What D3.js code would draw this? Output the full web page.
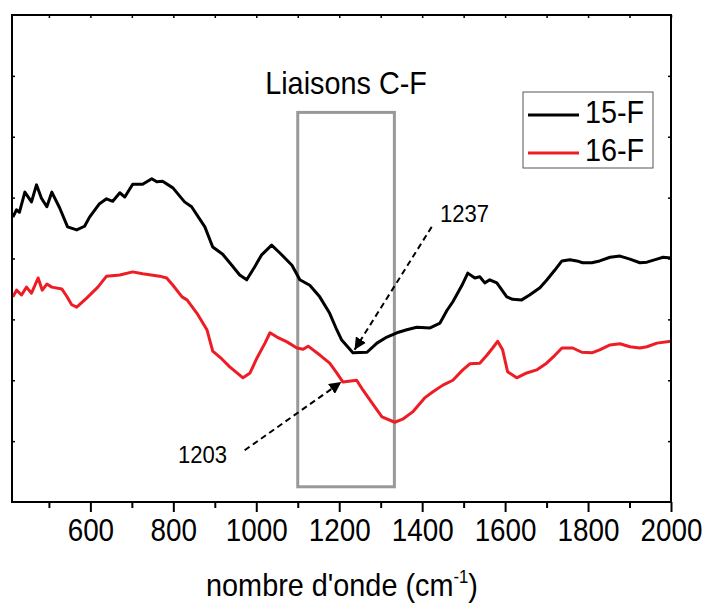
<!DOCTYPE html>
<html><head><meta charset="utf-8">
<script src="https://cdn.jsdelivr.net/npm/d3@7"></script>
<style>body{margin:0;background:#fff}svg{display:block;font-family:"Liberation Sans",Arial,sans-serif}</style>
</head><body>
<svg id="c" width="710" height="603"></svg>
<script>
// ---- data ----
const wn15 = [413,422,429,442,458,470,482,495,507,526,545,567,586,598,622,639,654,671,683,702,726,748,760,774,799,827,844,876,895,919,941,960,977,996,1013,1037,1057,1086,1105,1129,1153,1177,1194,1206,1233,1267,1291,1315,1339,1363,1387,1419,1443,1460,1474,1496,1510,1527,1539,1551,1563,1580,1604,1618,1640,1659,1684,1701,1720,1737,1756,1773,1787,1809,1828,1853,1877,1901,1925,1942,1966,1981,2000];
const t15 = [4.68,4.80,4.76,5.09,4.93,5.21,4.99,4.85,5.09,4.83,4.52,4.47,4.53,4.68,4.90,4.98,4.94,5.08,5.01,5.22,5.22,5.31,5.26,5.27,5.16,4.93,4.85,4.52,4.19,4.07,3.89,3.73,3.65,3.86,4.06,4.22,4.09,3.89,3.65,3.56,3.37,3.10,2.83,2.66,2.45,2.46,2.61,2.71,2.78,2.83,2.87,2.86,2.94,3.15,3.29,3.56,3.76,3.68,3.70,3.60,3.65,3.60,3.37,3.33,3.32,3.40,3.52,3.65,3.81,3.96,3.98,3.96,3.93,3.93,3.96,4.02,4.04,3.99,3.93,3.94,3.99,4.02,4.01];
const wn16 = [413,422,434,446,458,474,484,495,507,531,543,555,567,591,618,639,671,702,726,767,784,799,821,833,857,881,895,917,936,968,985,1002,1021,1033,1050,1074,1098,1113,1125,1154,1177,1194,1209,1242,1257,1279,1303,1334,1353,1377,1406,1426,1450,1474,1498,1515,1539,1556,1570,1582,1594,1606,1628,1652,1676,1700,1720,1737,1763,1785,1809,1828,1853,1877,1901,1925,1942,1966,2000];
const t16 = [3.37,3.48,3.40,3.53,3.43,3.68,3.48,3.58,3.53,3.50,3.38,3.24,3.20,3.35,3.53,3.71,3.73,3.78,3.75,3.71,3.68,3.56,3.37,3.32,3.10,2.83,2.48,2.35,2.22,2.04,2.12,2.37,2.61,2.78,2.71,2.63,2.53,2.51,2.56,2.41,2.28,2.12,1.97,2.00,1.84,1.63,1.40,1.31,1.36,1.48,1.71,1.81,1.92,2.00,2.17,2.27,2.28,2.41,2.53,2.64,2.50,2.14,2.04,2.12,2.17,2.28,2.41,2.53,2.53,2.46,2.45,2.50,2.58,2.60,2.55,2.53,2.55,2.61,2.64];
const seriesNames = ["15-F","16-F"];
const xMajorTicks = [600,800,1000,1200,1400,1600,1800,2000];
const xMinorTicks = [500,700,900,1100,1300,1500,1700,1900];
const yTicks = [1,2,3,4,5,6,7];
const cfBox = {x0:1100, x1:1333, y0:0.25, y1:6.40, label:"Liaisons C-F"};
const notes = [
  {label:"1237", from:[1423,4.52], to:[1237,2.50], text:[1443,4.60]},
  {label:"1203", from:[972,0.85], to:[1205,1.97], text:[811,0.64]}
];

// ---- layout ----
const svg = d3.select("#c");
const L=12, R=671, T=15, B=502;
const x = d3.scaleLinear().domain([411,2000]).range([L,R]);
const y = d3.scaleLinear().domain([0,8]).range([B,T]);
const colors = ["#000000","#ee1c25"];

svg.append("defs").append("clipPath").attr("id","clip")
  .append("rect").attr("x",L).attr("y",T).attr("width",R-L).attr("height",B-T);
svg.select("defs").append("marker").attr("id","ah")
  .attr("viewBox","0 0 10 10").attr("refX",10).attr("refY",5)
  .attr("markerWidth",6).attr("markerHeight",6).attr("markerUnits","strokeWidth")
  .attr("orient","auto")
  .append("path").attr("d","M0,0L10,5L0,10z").attr("fill","#000");

// box
svg.append("rect")
  .attr("x",x(cfBox.x0)).attr("y",y(cfBox.y1))
  .attr("width",x(cfBox.x1)-x(cfBox.x0)).attr("height",y(cfBox.y0)-y(cfBox.y1))
  .attr("fill","none").attr("stroke","#999").attr("stroke-width",3);
svg.append("text").attr("transform",`translate(${(x(cfBox.x0)+x(cfBox.x1))/2},94) scale(0.93,1)`)
  .attr("text-anchor","middle").attr("font-size",31)
  .text(cfBox.label);

// curves
const line = d3.line().x(d=>x(d[0])).y(d=>y(d[1]));
const d15 = wn15.map((w,i)=>[w,t15[i]]);
const d16 = wn16.map((w,i)=>[w,t16[i]]);
const g = svg.append("g").attr("clip-path","url(#clip)");
g.append("path").datum(d15).attr("d",line).attr("fill","none").attr("stroke",colors[0]).attr("stroke-width",3).attr("stroke-linejoin","round");
g.append("path").datum(d16).attr("d",line).attr("fill","none").attr("stroke",colors[1]).attr("stroke-width",3).attr("stroke-linejoin","round");

// annotations
notes.forEach(n=>{
  svg.append("line").attr("x1",x(n.from[0])).attr("y1",y(n.from[1]))
    .attr("x2",x(n.to[0])).attr("y2",y(n.to[1]))
    .attr("stroke","#000").attr("stroke-width",2).attr("stroke-dasharray","6,4")
    .attr("marker-end","url(#ah)");
  svg.append("text").attr("transform",`translate(${x(n.text[0])},${y(n.text[1])}) scale(0.92,1)`)
    .attr("font-size",24).text(n.label);
});

// axes frame
const ax = svg.append("g");
ax.append("g").attr("transform",`translate(0,${B})`)
  .call(d3.axisBottom(x).tickValues(xMajorTicks).tickSize(10).tickFormat(d3.format("d")))
  .call(s=>{s.select(".domain").remove();
    s.selectAll("line").attr("stroke-width",2);
    s.selectAll("text").attr("font-size",32).attr("dy",0).attr("y",39)
      .attr("transform","scale(0.87,1)")
      .attr("font-family","Liberation Sans, Arial, sans-serif").attr("fill","#000");});
ax.append("g").attr("transform",`translate(0,${B})`)
  .call(d3.axisBottom(x).tickValues(xMinorTicks).tickSize(6).tickFormat(""))
  .call(s=>{s.select(".domain").remove(); s.selectAll("line").attr("stroke-width",2);});
ax.append("g").attr("transform",`translate(0,${T})`)
  .call(d3.axisBottom(x).tickValues(xMajorTicks.concat(xMinorTicks)).tickSize(3).tickFormat(""))
  .call(s=>{s.select(".domain").remove(); s.selectAll("line").attr("stroke-width",1.5);});
ax.append("g").attr("transform",`translate(${L},0)`)
  .call(d3.axisRight(y).tickValues(yTicks).tickSize(3).tickFormat(""))
  .call(s=>{s.select(".domain").remove(); s.selectAll("line").attr("stroke-width",1.5);});
ax.append("g").attr("transform",`translate(${R},0)`)
  .call(d3.axisLeft(y).tickValues(yTicks).tickSize(3).tickFormat(""))
  .call(s=>{s.select(".domain").remove(); s.selectAll("line").attr("stroke-width",1.5);});
ax.append("rect").attr("x",L).attr("y",T).attr("width",R-L).attr("height",B-T)
  .attr("fill","none").attr("stroke","#000").attr("stroke-width",2);

// axis title
const tt = svg.append("text").attr("transform","translate(342,596) scale(0.93,1)").attr("text-anchor","middle")
  .attr("font-size",31);
tt.append("tspan").text("nombre d'onde (cm");
tt.append("tspan").attr("font-size",18).attr("dy",-13).text("-1");
tt.append("tspan").attr("dy",13).text(")");

// legend
const lg = svg.append("g");
lg.append("rect").attr("x",523).attr("y",92).attr("width",130).attr("height",76)
  .attr("fill","#fff").attr("stroke","#555").attr("stroke-width",1);
seriesNames.forEach((nm,i)=>{
  const yy = 115 + i*38;
  lg.append("line").attr("x1",528).attr("x2",579).attr("y1",yy).attr("y2",yy)
    .attr("stroke",colors[i]).attr("stroke-width",3);
  lg.append("text").attr("transform",`translate(585,${yy+8}) scale(0.9,1)`).attr("font-size",32)
    .text(nm);
});
</script>
</body></html>
